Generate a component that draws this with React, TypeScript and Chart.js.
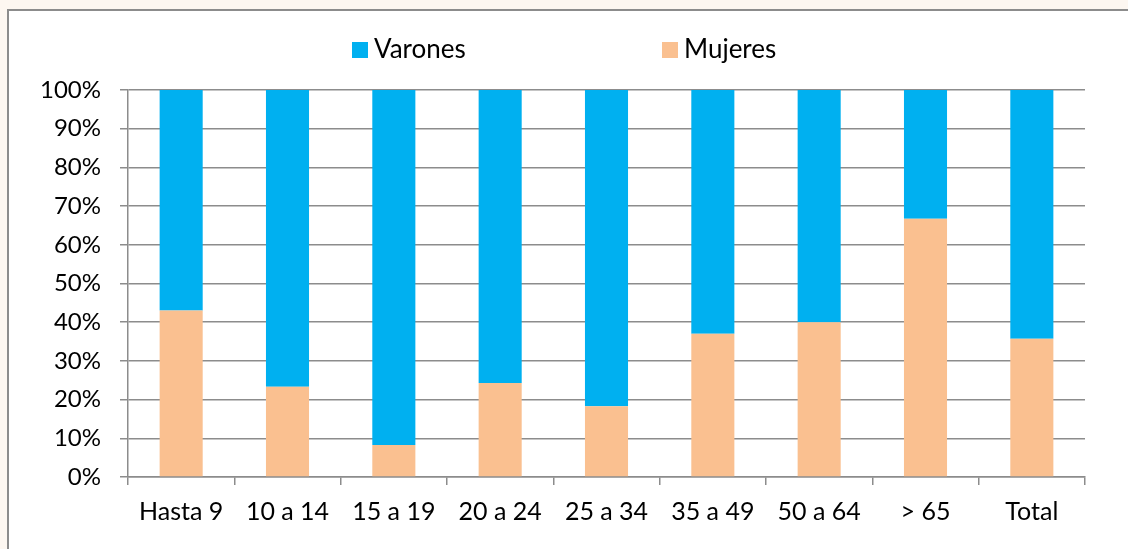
import React, { useEffect, useRef } from "react";
import { Chart, registerables } from "chart.js";

Chart.register(...registerables);

const categories = ["Hasta 9", "10 a 14", "15 a 19", "20 a 24", "25 a 34", "35 a 49", "50 a 64", "> 65", "Total"];
const mujeres = [43, 23.3, 8.3, 24.3, 18.3, 37, 40, 66.7, 35.7];
const varones = [57, 76.7, 91.7, 75.7, 81.7, 63, 60, 33.3, 64.3];
const yTickStep = 10;

const BLUE = "#00B0F0";
const PEACH = "#FAC090";
const GRID = "#8c8c8c";
const FONT = "Lato";

const legendPlugin = {
  id: "customLegend",
  afterDraw(chart: any) {
    const ctx = chart.ctx;
    const xs = [352, 662];
    const ds = [...chart.data.datasets].reverse();
    ctx.save();
    ctx.font = `26px ${FONT}`;
    ctx.textBaseline = "alphabetic";
    ctx.fillStyle = "#000";
    ds.forEach((d: any, i: number) => {
      const x = xs[i];
      ctx.fillStyle = d.backgroundColor;
      ctx.fillRect(x, 42, 16, 16);
      ctx.fillStyle = "#000";
      ctx.fillText(d.label, x + 22, 58);
    });
    ctx.restore();
  },
};

export default function App() {
  const ref = useRef<HTMLCanvasElement>(null);
  useEffect(() => {
    if (!ref.current) return;
    const chart = new Chart(ref.current, {
      type: "bar",
      data: {
        labels: categories,
        datasets: [
          { label: "Mujeres", data: mujeres, backgroundColor: PEACH, borderWidth: 0 },
          { label: "Varones", data: varones, backgroundColor: BLUE, borderWidth: 0 },
        ],
      },
      options: {
        animation: false,
        responsive: false,
        devicePixelRatio: 1,
        layout: { padding: { top: 90, right: 43, left: 0, bottom: 0 } },
        datasets: { bar: { categoryPercentage: 1, barPercentage: 0.405 } },
        plugins: { legend: { display: false }, tooltip: { enabled: false } },
        scales: {
          x: {
            stacked: true,
            grid: { offset: true, drawOnChartArea: false, drawTicks: true, tickLength: 8, color: GRID, lineWidth: 1.5 },
            border: { display: true, color: GRID, width: 1.5 },
            ticks: { color: "#000", font: { family: FONT, size: 25 }, padding: 12, maxRotation: 0, autoSkip: false },
            afterFit(scale: any) { scale.height = 72; },
          },
          y: {
            stacked: true,
            min: 0,
            max: 100,
            grid: { tickLength: 8, color: GRID, lineWidth: 1.5 },
            border: { display: true, color: GRID, width: 1.5 },
            ticks: { stepSize: yTickStep, color: "#000", font: { family: FONT, size: 24 }, padding: 19, callback: (v: any) => `${v}%` },
            afterFit(scale: any) { scale.width = 128; },
          },
        },
      },
      plugins: [legendPlugin],
    });
    return () => chart.destroy();
  }, []);
  return (
    <div style={{ position: "fixed", left: 0, top: 0, width: 1128, height: 549, overflow: "hidden", background: "#FDF7F1" }}>
      <div style={{ position: "absolute", left: 7, top: 9, width: 1200, height: 600, border: "2px solid #8c8c8c", background: "#fff" }} />
      <canvas ref={ref} width={1128} height={549} style={{ position: "absolute", left: 0, top: 0, width: 1128, height: 549 }} />
    </div>
  );
}
